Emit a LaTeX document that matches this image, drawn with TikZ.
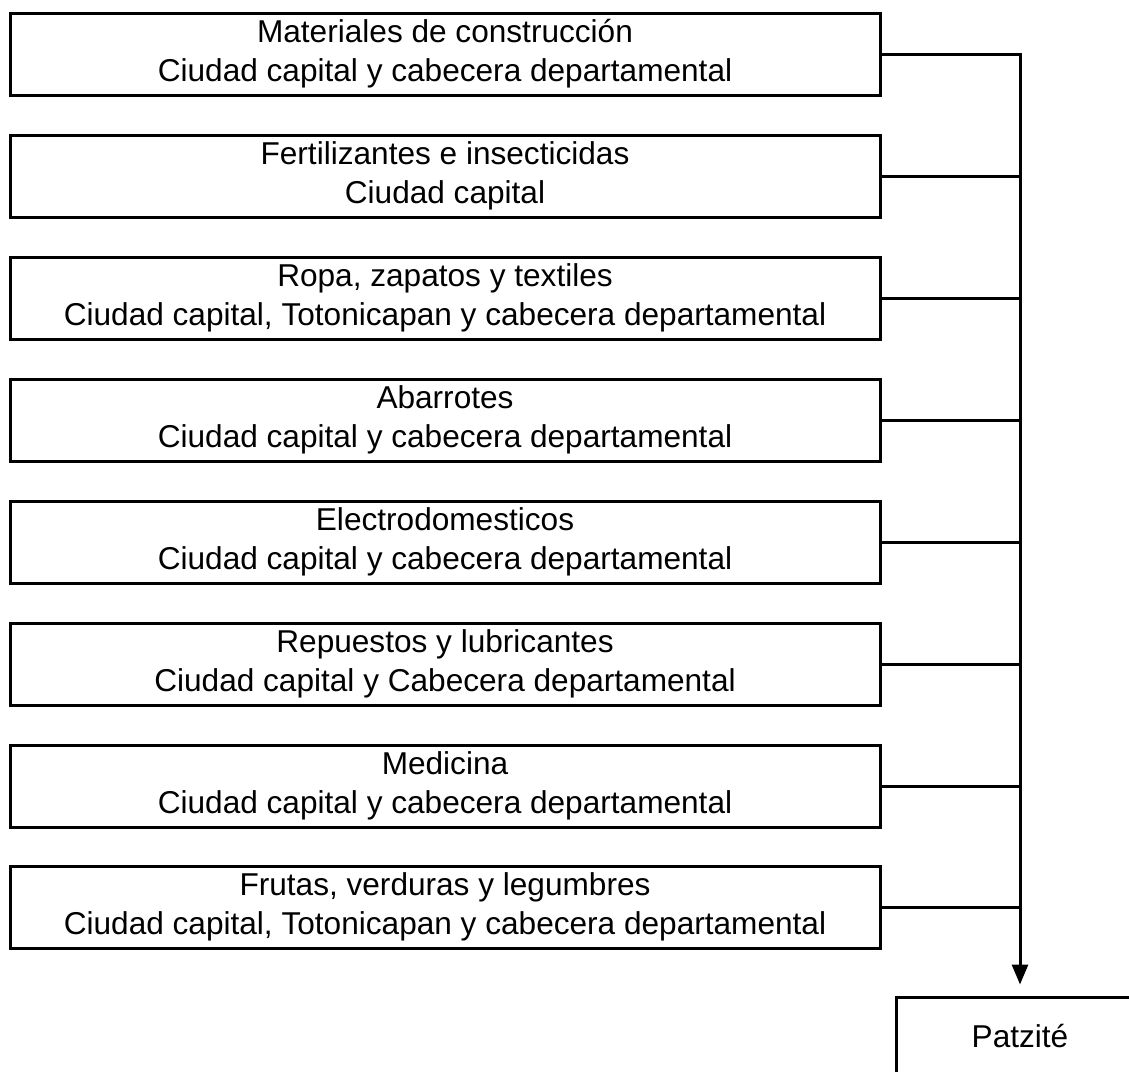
\documentclass[tikz,border=0pt]{standalone}
\usepackage{fontspec}
\setmainfont{Liberation Sans}
\usepackage{tikz}
\usetikzlibrary{arrows.meta,calc,positioning}
\tikzset{%
	origen/.style  = {draw, line width=1.5pt, rectangle, minimum width=435pt, minimum height=41pt, inner sep=0pt, align=center, font=\fontsize{15.8}{19.5}\selectfont},
	destino/.style = {draw, line width=1.5pt, rectangle, minimum width=124pt, minimum height=39pt, inner sep=0pt, font=\fontsize{15.8}{19.5}\selectfont},
	enlace/.style  = {line width=1.5pt},
	flecha/.style  = {line width=1.5pt, -{Triangle[length=10pt,width=8pt]}, shorten >=5.5pt},
}
\begin{document}
\begin{tikzpicture}[x=0.5pt,y=-0.5pt]
	\useasboundingbox (0,0) rectangle (1129,1071);
	\clip (0,0) rectangle (1129,1071);
	\node[origen] (mat) at (445,54) {Materiales de construcción\\Ciudad capital y cabecera departamental};
	\node[origen] (fer) at (445,176) {Fertilizantes e insecticidas\\Ciudad capital};
	\node[origen] (rop) at (445,298) {Ropa, zapatos y textiles\\Ciudad capital, Totonicapan y cabecera departamental};
	\node[origen] (aba) at (445,420) {Abarrotes\\Ciudad capital y cabecera departamental};
	\node[origen] (ele) at (445,542) {Electrodomesticos\\Ciudad capital y cabecera departamental};
	\node[origen] (rep) at (445,664) {Repuestos y lubricantes\\Ciudad capital y Cabecera departamental};
	\node[origen] (med) at (445,786) {Medicina\\Ciudad capital y cabecera departamental};
	\node[origen] (fru) at (445,907) {Frutas, verduras y legumbres\\Ciudad capital, Totonicapan y cabecera departamental};
	\node[destino] (pat) at (1020,1036) {Patzité}; % cut by the page edge
	\draw[flecha] (mat.east) -| (pat.north);
	\draw[enlace] (fer.east) -- (fer.east -| pat.north);
	\draw[enlace] (rop.east) -- (rop.east -| pat.north);
	\draw[enlace] (aba.east) -- (aba.east -| pat.north);
	\draw[enlace] (ele.east) -- (ele.east -| pat.north);
	\draw[enlace] (rep.east) -- (rep.east -| pat.north);
	\draw[enlace] (med.east) -- (med.east -| pat.north);
	\draw[enlace] (fru.east) -- (fru.east -| pat.north);
\end{tikzpicture}
\end{document}
